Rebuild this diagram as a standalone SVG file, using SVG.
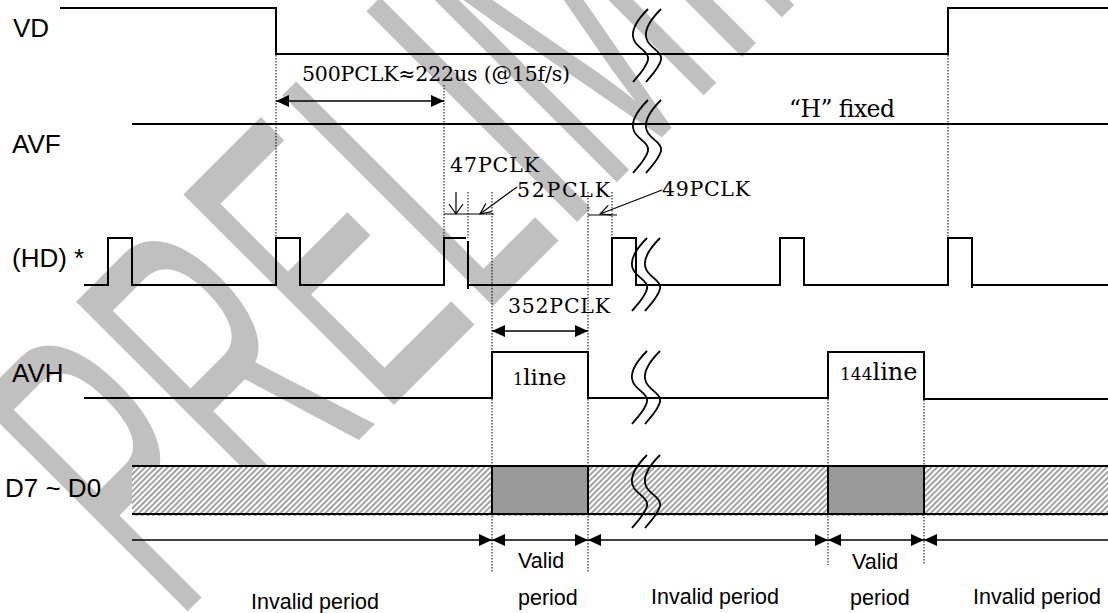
<svg xmlns="http://www.w3.org/2000/svg" xmlns:xlink="http://www.w3.org/1999/xlink" width="1108" height="613" viewBox="0 0 1108 613">
<style>
.sig{fill:none;stroke:#000;stroke-width:2}
.dot{fill:none;stroke:#000;stroke-width:1;stroke-dasharray:1.5 1.5}
.dim{fill:none;stroke:#000;stroke-width:1.3}
.thin{fill:none;stroke:#000;stroke-width:1.2}
.brk{fill:none;stroke:#000;stroke-width:1.8}
.lbl{font-family:"Liberation Sans",Arial,sans-serif;font-size:26px;fill:#000}
.per{font-family:"Liberation Sans",Arial,sans-serif;font-size:21.5px;fill:#000}
.ser{font-family:"DejaVu Serif","Liberation Serif",serif;font-size:20.5px;fill:#000}
.wm{font-family:"Liberation Sans",Arial,sans-serif;font-size:433px;fill:#c0c0c0}
</style>
<defs>
<pattern id="hatch" patternUnits="userSpaceOnUse" width="4" height="4" patternTransform="rotate(45)">
<rect width="4" height="4" fill="#fff"/>
<line x1="1" y1="0" x2="1" y2="4" stroke="#8c8c8c" stroke-width="1.6"/>
</pattern>
<marker id="af" viewBox="0 0 13 12" refX="13" refY="6" markerWidth="13" markerHeight="12" markerUnits="userSpaceOnUse" orient="auto-start-reverse">
<path d="M0,0L13,6L0,12z" fill="#000"/>
</marker>
<g id="brk">
<path class="brk" d="M0,0 C-10,10 -18,22 -14,31 C-11,39 2,43 0,51 C-2,59 -10,67 -15,73"/>
<path class="brk" d="M13,0 C3,10 -5,22 -1,31 C2,39 15,43 13,51 C11,59 3,67 -2,73"/>
</g>
</defs>
<rect width="1108" height="613" fill="#fff"/>
<g id="watermark">
<text class="wm" transform="translate(175.5,623.5) rotate(-45) scale(0.485,1)">PRELIMINARY</text>
</g>
<g id="labels">
<text class="lbl" x="13" y="37">VD</text>
<text class="lbl" x="12" y="153">AVF</text>
<text class="lbl" x="12" y="267">(HD) *</text>
<text class="lbl" x="12" y="382">AVH</text>
<text class="lbl" x="5" y="497">D7 ~ D0</text>
</g>
<g id="bus-d">
<rect x="132" y="467" width="976" height="49" fill="url(#hatch)"/>
<rect x="492" y="466" width="96" height="48" fill="#999"/>
<rect x="828" y="466" width="96" height="48" fill="#999"/>
<path class="sig" d="M132,466H1108M132,514H1108M492,466V514M588,466V514M828,466V514M924,466V514"/>
</g>
<g id="sig-vd"><path class="sig" d="M60,8H276V54H948V8H1108"/></g>
<g id="sig-avf"><path class="sig" d="M132,124H1108"/></g>
<g id="sig-hd"><path class="sig" d="M84,285H108V238H132V285H276V238H300V285H444V238H466M468,241V289M468,285H612V238H636V285H780V238H804V285H948V238H972V288M972,285H1108"/></g>
<g id="sig-avh"><path class="sig" d="M84,398H492V352H588V398H828V352H924V399H1108"/>
<text class="ser" x="513" y="385"><tspan font-size="16">1</tspan><tspan font-size="23">line</tspan></text>
<text class="ser" x="840" y="380"><tspan font-size="17">144</tspan><tspan font-size="24">line</tspan></text>
</g>
<g id="breaks">
<use xlink:href="#brk" href="#brk" x="648" y="9"/>
<use xlink:href="#brk" href="#brk" x="648" y="100"/>
<use xlink:href="#brk" href="#brk" x="647" y="238"/>
<use xlink:href="#brk" href="#brk" x="647" y="351"/>
<use xlink:href="#brk" href="#brk" x="647" y="455"/>
</g>
<g id="connectors">
<path class="dot" d="M276,55V238M444,85V238M468,192V238M492,192V573M588,192V573M612,192V238M948,55V238M828,399V565M924,400V565"/>
<line class="dim" x1="276" y1="101" x2="444" y2="101" marker-start="url(#af)" marker-end="url(#af)"/>
<line class="dim" x1="492" y1="331" x2="588" y2="331" marker-start="url(#af)" marker-end="url(#af)"/>
<line class="dim" x1="132" y1="540" x2="492" y2="540" marker-end="url(#af)"/>
<line class="dim" x1="492" y1="540" x2="588" y2="540" marker-start="url(#af)" marker-end="url(#af)"/>
<line class="dim" x1="588" y1="540" x2="828" y2="540" marker-start="url(#af)" marker-end="url(#af)"/>
<line class="dim" x1="828" y1="540" x2="924" y2="540" marker-start="url(#af)" marker-end="url(#af)"/>
<line class="dim" x1="924" y1="540" x2="1108" y2="540" marker-start="url(#af)"/>
<path class="thin" d="M444,214H494M588,215H617"/>
<path class="thin" d="M456,192V214M449,204L456,214L463,204"/>
<path class="thin" d="M517,187L480,214M491.8,211.7L480,214L485.8,203.5"/>
<path class="thin" d="M662,190L600,214M612,214.8L600,214L608.3,205.4"/>
</g>
<g id="dim-text">
<text class="ser" x="302" y="81" font-size="20" textLength="268">500PCLK≈222us (@15f/s)</text>
<text class="ser" x="789" y="117" style="font-size:23.5px" textLength="106">“H” fixed</text>
<text class="ser" x="450" y="172" textLength="89">47PCLK</text>
<text class="ser" x="517" y="197" textLength="93">52PCLK</text>
<text class="ser" x="662" y="196" textLength="88">49PCLK</text>
<text class="ser" x="508" y="313" textLength="102">352PCLK</text>
</g>
<g id="periods">
<text class="per" x="251" y="609">Invalid period</text>
<text class="per" x="518" y="568">Valid</text>
<text class="per" x="518" y="605">period</text>
<text class="per" x="651" y="604">Invalid period</text>
<text class="per" x="852" y="569">Valid</text>
<text class="per" x="850" y="605">period</text>
<text class="per" x="973" y="604">Invalid period</text>
</g>
</svg>
